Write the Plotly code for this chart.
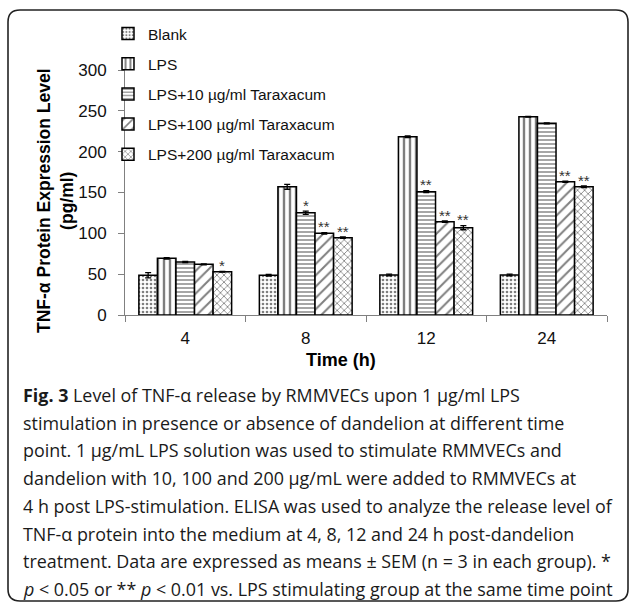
import plotly.graph_objects as go

# ---------------- data ----------------
times = ["4", "8", "12", "24"]
series_names = ["Blank", "LPS", "LPS+10 µg/ml Taraxacum",
                "LPS+100 µg/ml Taraxacum", "LPS+200 µg/ml Taraxacum"]
blank = [48.6, 48.6, 49.0, 49.0]
lps = [69.4, 157.0, 218.3, 242.8]
tara10 = [64.9, 125.3, 151.0, 234.7]
tara100 = [62.0, 100.0, 114.3, 163.2]
tara200 = [53.0, 94.7, 106.9, 157.1]
blank_err = [3.2, 1.0, 1.0, 1.0]
lps_err = [0.8, 3.0, 1.0, 0.5]
tara10_err = [0.8, 2.0, 1.2, 0.5]
tara100_err = [0.5, 0.8, 1.0, 0.8]
tara200_err = [0.5, 0.8, 2.5, 1.0]
blank_sig = ["", "", "", ""]
lps_sig = ["", "", "", ""]
tara10_sig = ["", "*", "**", ""]
tara100_sig = ["", "**", "**", "**"]
tara200_sig = ["*", "**", "**", "**"]
y_ticks = [0, 50, 100, 150, 200, 250, 300]

caption_lines = [
    "<b>Fig. 3</b> Level of TNF-α release by RMMVECs upon 1 µg/ml LPS",
    "stimulation in presence or absence of dandelion at different time",
    "point. 1 µg/mL LPS solution was used to stimulate RMMVECs and",
    "dandelion with 10, 100 and 200 µg/mL were added to RMMVECs at",
    "4 h post LPS-stimulation. ELISA was used to analyze the release level of",
    "TNF-α protein into the medium at 4, 8, 12 and 24 h post-dandelion",
    "treatment. Data are expressed as means ± SEM (n = 3 in each group). *",
    "<i>p</i> < 0.05 or ** <i>p</i> < 0.01 vs. LPS stimulating group at the same time point",
]

values = [blank, lps, tara10, tara100, tara200]
errors = [blank_err, lps_err, tara10_err, tara100_err, tara200_err]
sigs = [blank_sig, lps_sig, tara10_sig, tara100_sig, tara200_sig]
patterns = [
    dict(shape=".", size=4, solidity=0.35),
    dict(shape="|", size=6, solidity=0.4),
    dict(shape="-", size=4, solidity=0.35),
    dict(shape="/", size=8, solidity=0.25),
    dict(shape="x", size=5, solidity=0.3),
]

# ---------------- layout geometry (pixels) ----------------
W, H = 630, 605
L, R, T, B = 125, 23, 70, 290
PW, PH = W - L - R, H - T - B


def px(x):
    return (x - L) / PW


def py(y):
    return (H - B - y) / PH


FONT = "Liberation Sans, Arial, sans-serif"
CAP_FONT = "Open Sans, sans-serif"

fig = go.Figure()
for i, name in enumerate(series_names):
    fig.add_trace(go.Bar(
        x=times, y=values[i], name=name, legendgroup=name,
        marker=dict(color="white", line=dict(color="black", width=1.5),
                    pattern=dict(fgcolor="black", bgcolor="white", **patterns[i])),
        error_y=dict(type="data", array=errors[i], visible=True,
                     color="black", thickness=1.3, width=3),
    ))

bargap = 0.23
nser = len(series_names)
bw = (1 - bargap) / nser
annotations = []
for i in range(nser):
    for j in range(len(times)):
        if sigs[i][j]:
            xc = j - (1 - bargap) / 2 + bw * (i + 0.5)
            annotations.append(dict(
                x=xc, y=values[i][j] + errors[i][j] + 7, xref="x", yref="y",
                text=sigs[i][j], showarrow=False, yanchor="middle",
                font=dict(family=FONT, size=15, color="#333")))

# axis titles
annotations.append(dict(
    x=px(55), y=py(201), xref="paper", yref="paper", showarrow=False,
    xanchor="center", yanchor="middle",
    text="<b>TNF-α Protein Expression Level<br>(pg/ml)</b>", textangle=-90,
    font=dict(family=FONT, size=17.5, color="black")))
annotations.append(dict(
    x=px(341), y=py(360), xref="paper", yref="paper", showarrow=False,
    xanchor="center", yanchor="middle",
    text="<b>Time (h)</b>", font=dict(family=FONT, size=18, color="black")))

# caption
for k, line in enumerate(caption_lines):
    annotations.append(dict(
        x=px(21), y=py(395 + 27.7 * k), xref="paper", yref="paper",
        xanchor="left", yanchor="middle", showarrow=False, align="left",
        text=line, font=dict(family=CAP_FONT, size=17.9, color="#1a1a1a")))

# rounded border box
bx0, bx1, by0, by1, rr = 8, 628, 10, 601, 12
pts = [
    ("M", bx0 + rr, by0), ("L", bx1 - rr, by0), ("Q", bx1, by0, bx1, by0 + rr),
    ("L", bx1, by1 - rr), ("Q", bx1, by1, bx1 - rr, by1), ("L", bx0 + rr, by1),
    ("Q", bx0, by1, bx0, by1 - rr), ("L", bx0, by0 + rr), ("Q", bx0, by0, bx0 + rr, by0),
]
path = ""
for p in pts:
    cmd, coords = p[0], p[1:]
    parts = []
    for a in range(0, len(coords), 2):
        parts.append(f"{px(coords[a]):.5f},{py(coords[a + 1]):.5f}")
    path += cmd + " ".join(parts) + " "
path += "Z"

fig.update_layout(
    width=W, height=H, margin=dict(l=L, r=R, t=T, b=B),
    paper_bgcolor="white", plot_bgcolor="white",
    barmode="group", bargap=bargap, bargroupgap=0,
    showlegend=True,
    legend=dict(x=px(108), y=py(17), xanchor="left", yanchor="top",
                bgcolor="rgba(0,0,0,0)", tracegroupgap=7,
                font=dict(family=FONT, size=15.5, color="#111")),
    xaxis=dict(type="category", showline=True, linecolor="#808080", linewidth=1,
               ticks="outside", tickson="boundaries", ticklen=6, tickcolor="#808080",
               ticklabelstandoff=8,
               tickfont=dict(family=FONT, size=17, color="#111"), showgrid=False),
    yaxis=dict(range=[0, 300], tickvals=y_ticks, showline=True, linecolor="#808080",
               linewidth=1, ticks="outside", ticklen=6, tickcolor="#808080",
               ticklabelstandoff=8,
               tickfont=dict(family=FONT, size=17, color="#111"), showgrid=False,
               zeroline=False),
    annotations=annotations,
    shapes=[dict(type="path", path=path, xref="paper", yref="paper",
                 line=dict(color="#222", width=1.6), layer="above")],
)

fig.write_html("out.html", config={"displayModeBar": False},
               post_script="document.body.style.margin='0';document.body.style.overflow='hidden';")
